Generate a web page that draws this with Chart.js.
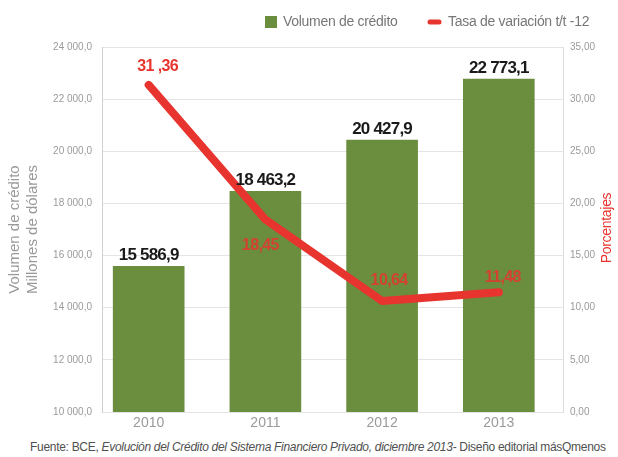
<!DOCTYPE html>
<html lang="es">
<head>
<meta charset="utf-8">
<script src="https://cdn.jsdelivr.net/npm/chart.js@4.4.1/dist/chart.umd.min.js"></script>
<style>
  html, body { margin: 0; padding: 0; background: #fff; }
  #wrap { position: relative; width: 618px; height: 457px; }
  #grafico { display: block; }
  #fuente {
    position: absolute; left: 30px; top: 440px;
    font: 12px "Liberation Sans", Arial, sans-serif; color: #505050;
    letter-spacing: -0.3px; white-space: nowrap;
  }
</style>
</head>
<body>
<div id="wrap">
  <canvas id="grafico" width="618" height="437"></canvas>
  <div id="fuente">Fuente: BCE, <i>Evolución del Crédito del Sistema Financiero Privado, diciembre 2013</i>- Diseño editorial másQmenos</div>
</div>
<script>
// datos
const years = ['2010', '2011', '2012', '2013'];
const volumen = [15586.9, 18463.2, 20427.9, 22773.1];   // millones de dólares
const tasa = [31.36, 18.45, 10.64, 11.48];               // % t/t-12
const tasaText = ['31 ,36', '18,45', '10,64', '11,48'];
const volTicks = [10000, 12000, 14000, 16000, 18000, 20000, 22000, 24000];
const pctTicks = [0, 5, 10, 15, 20, 25, 30, 35];

const VERDE = '#6b8e3e';
const ROJO = '#e8342f';
const GRIS = '#9a9a9a';
const FONT = '"Liberation Sans", Arial, sans-serif';

function fmt(v, dec) {
  const [ent, frac] = v.toFixed(dec).split('.');
  return ent.replace(/\B(?=(\d{3})+(?!\d))/g, ' ') + ',' + frac;
}

// etiquetas de valores, leyenda y título del eje derecho
const extras = {
  id: 'extras',
  afterDatasetsDraw(chart) {
    const ctx = chart.ctx;
    ctx.save();
    ctx.textAlign = 'center';
    ctx.textBaseline = 'alphabetic';
    ctx.font = 'bold 17px ' + FONT;
    ctx.letterSpacing = '-0.8px';
    ctx.fillStyle = '#1a1a1a';
    chart.getDatasetMeta(0).data.forEach((bar, i) => {
      ctx.fillText(fmt(volumen[i], 1), bar.x, bar.y - 6);
    });

    const offs = [[9, -18], [-5, 26], [7, -20], [4, -15]];
    ctx.font = 'bold 16px ' + FONT;
    ctx.letterSpacing = '-0.6px';
    ctx.textBaseline = 'middle';
    ctx.fillStyle = ROJO;
    chart.getDatasetMeta(1).data.forEach((pt, i) => {
      ctx.globalAlpha = pt.y > chart.getDatasetMeta(0).data[i].y ? 0.85 : 1;
      ctx.fillText(tasaText[i], pt.x + offs[i][0], pt.y + offs[i][1]);
    });
    ctx.restore();
  },
  afterDraw(chart) {
    const ctx = chart.ctx;
    ctx.save();
    // leyenda
    ctx.font = '14px ' + FONT;
    ctx.textBaseline = 'middle';
    ctx.textAlign = 'left';
    ctx.letterSpacing = '-0.3px';
    ctx.fillStyle = VERDE;
    ctx.fillRect(265, 16, 12, 12);
    ctx.fillStyle = '#777';
    ctx.fillText('Volumen de crédito', 283, 22);
    ctx.strokeStyle = ROJO;
    ctx.lineWidth = 5;
    ctx.lineCap = 'round';
    ctx.beginPath();
    ctx.moveTo(430, 22);
    ctx.lineTo(439, 22);
    ctx.stroke();
    ctx.fillText('Tasa de variación t/t -12', 448, 22);

    // título del eje derecho
    ctx.translate(607, 228);
    ctx.rotate(-Math.PI / 2);
    ctx.textAlign = 'center';
    ctx.font = '14px ' + FONT;
    ctx.fillStyle = ROJO;
    ctx.fillText('Porcentajes', 0, 0);
    ctx.restore();
  }
};

new Chart(document.getElementById('grafico'), {
  data: {
    datasets: [
      {
        type: 'bar',
        label: 'Volumen de crédito',
        data: volumen.map((v, i) => ({ x: Number(years[i]), y: v })),
        backgroundColor: VERDE,
        barThickness: 71,
        yAxisID: 'y',
        order: 1
      },
      {
        type: 'line',
        label: 'Tasa de variación t/t -12',
        data: tasa.map((v, i) => ({ x: Number(years[i]), y: v })),
        borderColor: ROJO,
        borderWidth: 8,
        borderJoinStyle: 'round',
        borderCapStyle: 'round',
        pointRadius: 0,
        tension: 0,
        yAxisID: 'y1',
        order: 0
      }
    ]
  },
  options: {
    responsive: false,
    animation: false,
    layout: { padding: { top: 47 } },
    plugins: {
      legend: { display: false },
      tooltip: { enabled: false }
    },
    scales: {
      x: {
        type: 'linear',
        offset: false,
        min: 2009.6,
        max: 2013.55,
        grid: { display: false, drawTicks: false },
        border: { display: false },
        afterBuildTicks: s => { s.ticks = years.map(y => ({ value: Number(y) })); },
        afterFit: s => { s.height = 25; },
        ticks: {
          callback: v => String(v),
          color: GRIS,
          font: { family: FONT, size: 14 },
          padding: 3,
          maxRotation: 0
        }
      },
      y: {
        position: 'left',
        min: 10000,
        max: 24000,
        afterBuildTicks: s => { s.ticks = volTicks.map(v => ({ value: v })); },
        afterFit: s => { s.width = 102; },
        grid: { color: '#e4e4e4', drawTicks: false },
        border: { color: '#d0d0d0' },
        ticks: {
          callback: v => fmt(v, 1),
          color: GRIS,
          font: { family: FONT, size: 10 },
          padding: 10
        },
        title: {
          display: true,
          text: ['Volumen de crédito', 'Millones de dólares'],
          color: GRIS,
          font: { family: FONT, size: 15 },
          padding: { top: 6, bottom: 0 }
        }
      },
      y1: {
        position: 'right',
        min: 0,
        max: 35,
        afterBuildTicks: s => { s.ticks = pctTicks.map(v => ({ value: v })); },
        afterFit: s => { s.width = 55; },
        grid: { display: false, drawTicks: false },
        border: { color: '#dcdcdc' },
        ticks: {
          callback: v => fmt(v, 2),
          color: GRIS,
          font: { family: FONT, size: 10 },
          padding: 7
        }
      }
    }
  },
  plugins: [extras]
});
</script>
</body>
</html>
